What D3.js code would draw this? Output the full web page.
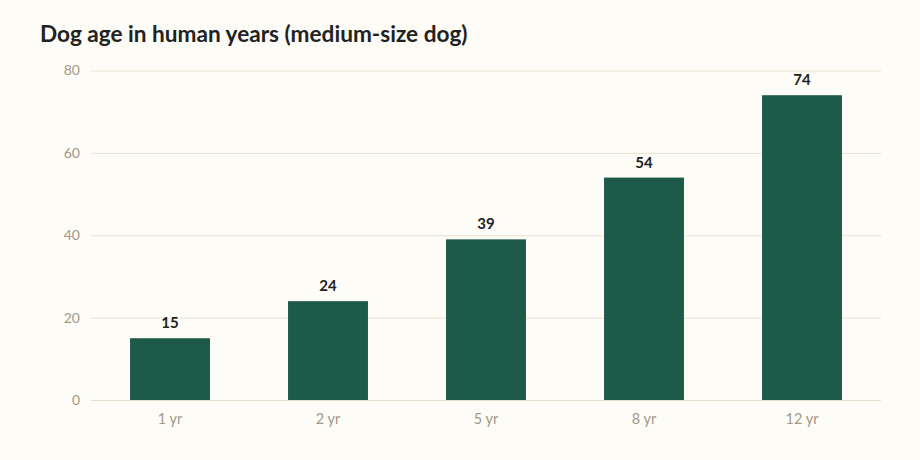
<!DOCTYPE html>
<html><head><meta charset="utf-8">
<script src="https://cdn.jsdelivr.net/npm/d3@7"></script>
<style>
html,body{margin:0;padding:0;background:#fdfcf7;}
svg{display:block;font-family:Lato,"Open Sans",sans-serif;}
</style></head>
<body>
<svg id="chart" width="920" height="460"></svg>
<script>
const categories = ["1 yr","2 yr","5 yr","8 yr","12 yr"];
const values = [15,24,39,54,74];
const yTicks = [0,20,40,60,80];
const title = "Dog age in human years (medium-size dog)";

const svg = d3.select("#chart");
svg.append("rect").attr("width",920).attr("height",460).attr("fill","#fdfcf7");

const x = d3.scaleBand().domain(categories).range([91,881]).paddingInner(0.494).paddingOuter(0.247);
const y = d3.scaleLinear().domain([0,80]).range([400,70.5]);

svg.append("text").attr("x",40).attr("y",42).text(title)
  .attr("font-size",22.6).attr("font-weight",700).attr("fill","#222");

const yAxis = svg.append("g").attr("transform","translate(91,0)")
  .call(d3.axisLeft(y).tickValues(yTicks).tickSize(-790).tickPadding(11));
yAxis.select(".domain").remove();
yAxis.selectAll(".tick line").attr("stroke","#e8e1d1").attr("stroke-width",1);
yAxis.selectAll(".tick text").attr("fill","#a39787").attr("font-size",14).attr("font-family","Lato");

svg.selectAll("rect.bar").data(values).join("rect").attr("class","bar")
  .attr("x",(d,i)=>x(categories[i])).attr("width",x.bandwidth())
  .attr("y",d=>y(d)).attr("height",d=>y(0)-y(d)).attr("fill","#1e5a4a");

const xAxis = svg.append("g").attr("transform","translate(0,400)")
  .call(d3.axisBottom(x).tickSize(0).tickPadding(14));
xAxis.select(".domain").remove();
xAxis.selectAll(".tick text").attr("fill","#a39787").attr("font-size",14.5).attr("font-family","Lato");

svg.selectAll("text.val").data(values).join("text").attr("class","val")
  .attr("x",(d,i)=>x(categories[i])+x.bandwidth()/2).attr("y",d=>y(d)-10)
  .attr("text-anchor","middle").attr("font-size",15).attr("font-weight",700).attr("fill","#222")
  .text(d=>d);
</script>
</body></html>
